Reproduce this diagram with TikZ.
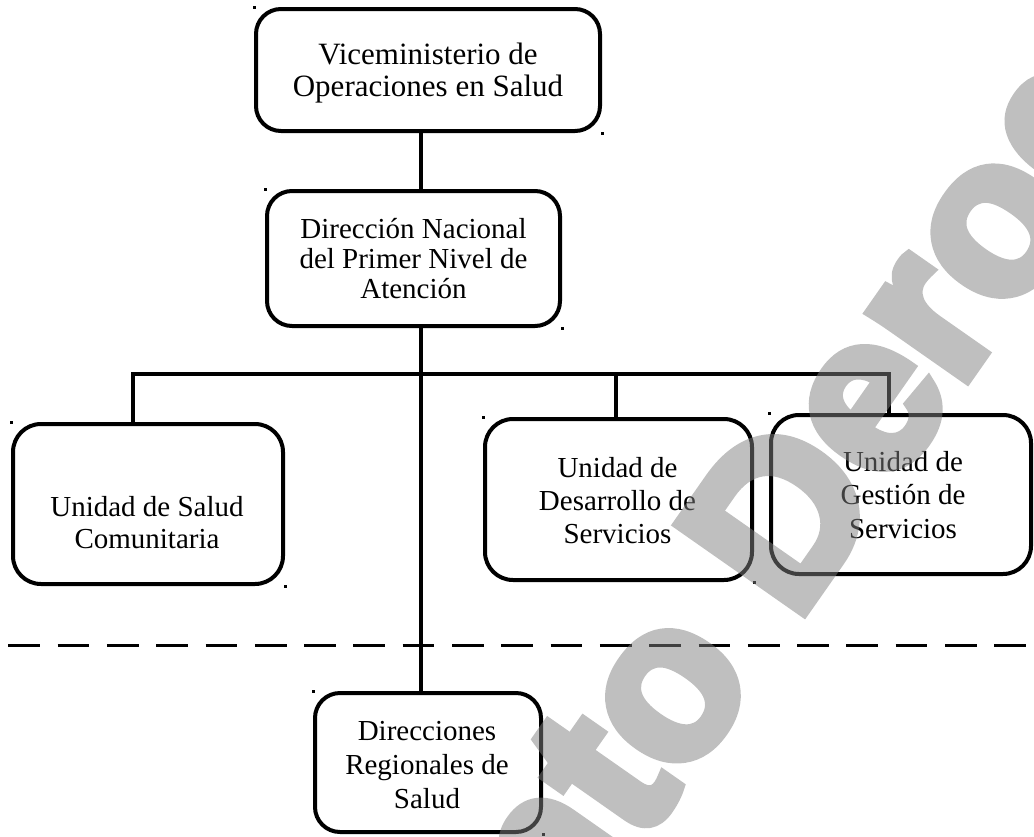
\documentclass[tikz,border=0pt]{standalone}
\usepackage{fontspec}
\setmainfont{Liberation Serif}
\newfontfamily\wmfont{Liberation Sans}[FakeBold=5]
\begin{document}
\begin{tikzpicture}[x=1pt,y=-1pt,
  box/.style={rectangle, draw=black, line width=4pt, rounded corners=25pt, inner sep=0pt, outer sep=0pt},
  lbl/.style={align=center, inner sep=0pt},
  conn/.style={line width=3.8pt},
  divider/.style={line width=3.3pt, dash pattern=on 31.7pt off 17.6pt},
  watermark/.style={rotate=55, text=gray, inner sep=0pt,
    font=\wmfont\bfseries\fontsize{222}{222}\selectfont}
]
\useasboundingbox (0,0) rectangle (1034,836);

% boxes
\node[box, minimum width=344pt, minimum height=122pt] (vice) at (428,70) {};
\node[box, minimum width=293pt, minimum height=135pt] (dir) at (413.5,258.5) {};
\node[box, rounded corners=28pt, minimum width=270pt, minimum height=160pt] (sal) at (148,504) {};
\node[box, rounded corners=28pt, minimum width=267pt, minimum height=161pt] (des) at (618.5,499.5) {};
\node[box, rounded corners=28pt, minimum width=260pt, minimum height=159pt] (ges) at (901,494.5) {};
\node[box, minimum width=226pt, minimum height=139pt] (reg) at (428,762.5) {};

% texts
\node[lbl, font=\fontsize{31}{32.7}\selectfont] (vicet) at (428,73) {Viceministerio de\\Operaciones en Salud};
\node[lbl, font=\fontsize{29}{30}\selectfont] (dirt) at (413.5,259) {Dirección Nacional\\del Primer Nivel de\\Atención};
\node[lbl, font=\fontsize{29}{31.3}\selectfont] (salt) at (147,522.5) {Unidad de Salud\\Comunitaria};
\node[lbl, font=\fontsize{29}{33}\selectfont] (dest) at (617.5,501) {Unidad de\\Desarrollo de\\Servicios};
\node[lbl, font=\fontsize{29}{33.5}\selectfont] (gest) at (903,495) {Unidad de\\Gestión de\\Servicios};
\node[lbl, font=\fontsize{29}{33.7}\selectfont] (regt) at (427,765) {Direcciones\\Regionales de\\Salud};

% connectors
\coordinate (tx) at (421,0);
\coordinate (cl) at (133,374);
\coordinate (cm) at (616,374);
\coordinate (cr) at (889,374);
\draw[conn] (vice.south -| tx) -- (dir.north -| tx);
\draw[conn] (dir.south -| tx) -- (reg.north -| tx);
\draw[conn] (sal.north -| cl) -- (cl) -- (cr) -- (ges.north -| cr);
\draw[conn] (cm) -- (des.north -| cm);

% dashed divider
\coordinate (dl) at (8.3,645.7);
\coordinate (dr) at (1034,645.7);
\draw[divider] (dl) -- (dr);

% small corner marks
\foreach \b in {vice,dir,sal,des,ges,reg}
  \fill ([shift={(-3.5,-3.5)}]\b.north west) rectangle +(3,3);
\foreach \b in {vice,dir,sal,des,reg}
  \fill ([shift={(0.5,0.5)}]\b.south east) rectangle +(3,3);

% watermark
\begin{scope}[transparency group, opacity=0.5]
\clip (0,0) rectangle (1034,836);
\node[watermark] (wm) at (678,692) {Documento Derogado};
\end{scope}
\end{tikzpicture}
\end{document}
